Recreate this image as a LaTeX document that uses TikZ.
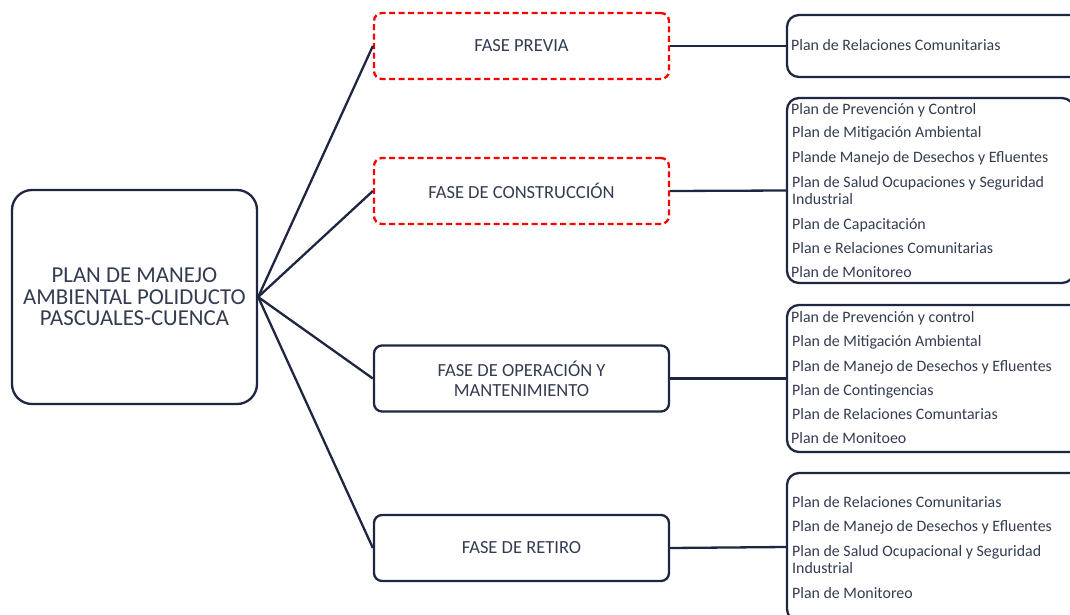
\documentclass[tikz,border=0pt]{standalone}
\usepackage{fontspec}
\setmainfont{Carlito}
\definecolor{navy}{HTML}{1E2642}
\definecolor{ink}{HTML}{333C50}
\definecolor{redline}{HTML}{FF0000}
\begin{document}
\begin{tikzpicture}[x=1pt,y=-1pt,
  box/.style={draw=navy, line width=2.3pt, fill=white, rectangle, inner sep=0pt},
  rootbox/.style={box, rounded corners=20pt, minimum width=245pt, minimum height=214pt,
    align=center, font=\fontsize{22.8}{21.4}\selectfont, text=ink},
  phasebox/.style={box, rounded corners=8pt, minimum width=295pt, minimum height=66pt,
    align=center, font=\fontsize{18.5}{20}\selectfont, text=ink},
  draftbox/.style={phasebox, draw=redline, dash pattern=on 6pt off 3.5pt},
  planbox/.style={box, rounded corners=12pt, minimum width=298pt},
  item/.style={anchor=base west, inner sep=0pt, text=ink, font=\fontsize{15.9}{17}\selectfont},
  link/.style={draw=navy, line width=2.3pt}
]
\useasboundingbox (0,0) rectangle (1070,615);

% root
\node[rootbox] (root) at (134.5,297) {PLAN DE MANEJO\\AMBIENTAL POLIDUCTO\\PASCUALES-CUENCA};

% phases
\node[draftbox] (p1) at (521.5,46) {FASE PREVIA};
\node[draftbox] (p2) at (521.5,191) {FASE DE CONSTRUCCIÓN};
\node[phasebox] (p3) at (521.5,378.5) {FASE DE OPERACIÓN Y\\MANTENIMIENTO};
\node[phasebox] (p4) at (521.5,548) {FASE DE RETIRO};

% plan groups
\node[planbox, minimum height=62pt] (g1) at (936,46) {};
\node[planbox, minimum width=287pt, minimum height=185pt] (g2) at (930.5,190.5) {};
\node[planbox, minimum height=147pt] (g3) at (936,378.5) {};
\node[planbox, minimum height=148pt] (g4) at (936,547) {};

% connectors
\foreach \p in {p1,p2,p3,p4} \draw[link] (root.east) -- (\p.west);
\draw[link] (p1.east) -- (g1.west);
\draw[link] (p2.east) -- (g2.west);
\draw[link] (p3.east) -- (g3.west);
\draw[link] (p4.east) -- (g4.west);

% plan lists
\node[item] (g1a) at (791,51) {Plan de Relaciones Comunitarias};

\node[item] (g2a) at (791,114) {Plan de Prevención y Control};
\node[item] (g2b) at (792,138) {Plan de Mitigación Ambiental};
\node[item] (g2c) at (792,162) {Plande Manejo de Desechos y Efluentes};
\node[item] (g2d) at (792,187) {Plan de Salud Ocupaciones y Seguridad};
\node[item] (g2d2) at (792,204) {Industrial};
\node[item] (g2e) at (792,229) {Plan de Capacitación};
\node[item] (g2f) at (792,253) {Plan e Relaciones Comunitarias};
\node[item] (g2g) at (791,277) {Plan de Monitoreo};

\node[item] (g3a) at (791,322) {Plan de Prevención y control};
\node[item] (g3b) at (792,346) {Plan de Mitigación Ambiental};
\node[item] (g3c) at (792,371) {Plan de Manejo de Desechos y Efluentes};
\node[item] (g3d) at (792,395) {Plan de Contingencias};
\node[item] (g3e) at (792,419) {Plan de Relaciones Comuntarias};
\node[item] (g3f) at (791,443) {Plan de Monitoeo};

\node[item] (g4a) at (792,507) {Plan de Relaciones Comunitarias};
\node[item] (g4b) at (792,531) {Plan de Manejo de Desechos y Efluentes};
\node[item] (g4c) at (792,556) {Plan de Salud Ocupacional y Seguridad};
\node[item] (g4c2) at (792,573) {Industrial};
\node[item] (g4d) at (792,598) {Plan de Monitoreo};
\end{tikzpicture}
\end{document}
